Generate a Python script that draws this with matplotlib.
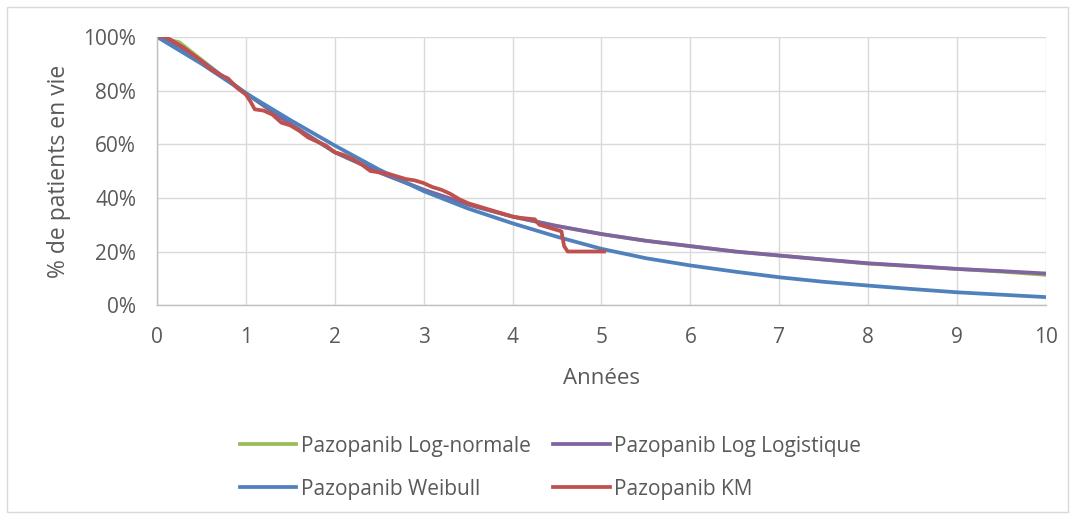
import numpy as np
import matplotlib
matplotlib.use('Agg')
import matplotlib.pyplot as plt
import matplotlib.patches as patches
import matplotlib.ticker as ticker

plt.rcParams['font.family'] = ['Open Sans', 'DejaVu Sans']

# fitted curves (years, survival %)
t_fit = [0, 0.25, 0.5, 0.75, 1, 1.5, 2, 2.5, 3, 3.5, 4, 4.5, 5, 5.5, 6, 6.5, 7, 7.5, 8, 8.5, 9, 9.5, 10]
lognorm = [100, 98, 91.5, 85, 79, 67.5, 57, 49.5, 43, 37.5, 33, 29.5, 26.5, 24, 22, 20, 18.5, 17, 15.5, 14.5, 13.5, 12.5, 11.3]
loglogis = [100, 96.5, 91, 85, 79, 67.5, 57, 49.5, 43, 37.5, 33, 29.5, 26.5, 24, 22, 20, 18.5, 17, 15.6, 14.6, 13.5, 12.7, 11.8]
weibull = [100, 95, 90, 84.5, 79, 69, 59.5, 50.5, 42.5, 36, 30.5, 25.5, 21, 17.5, 14.8, 12.5, 10.4, 8.7, 7.3, 6, 4.8, 3.9, 3.0]

# Kaplan-Meier estimate
t_km = [0, 0.1, 0.2, 0.3, 0.4, 0.5, 0.6, 0.7, 0.8, 0.9, 1.0, 1.05, 1.1, 1.2, 1.3, 1.4, 1.5, 1.6, 1.7, 1.8,
        1.9, 2.0, 2.1, 2.2, 2.3, 2.4, 2.5, 2.6, 2.7, 2.8, 2.9, 3.0, 3.1, 3.2, 3.3, 3.4, 3.5, 3.6, 3.7, 3.8,
        3.9, 4.0, 4.1, 4.25, 4.3, 4.4, 4.5, 4.55, 4.58, 4.62, 5.03]
km = [100, 100, 98, 96, 93.5, 91, 88, 86, 84.5, 81, 78.5, 76, 73, 72.5, 71, 68, 67, 65, 62.5, 61,
      59.5, 57, 56, 54.5, 52.5, 50, 49.5, 49, 48, 47, 46.5, 45.5, 44, 43, 41.5, 39.5, 38, 37, 36, 35,
      34, 33, 32.5, 32, 30, 29, 28, 27.5, 22, 20, 20]

grey = '#595959'

fig = plt.figure(figsize=(10.75, 5.19), dpi=100)
ax = fig.add_axes([0.146, 0.412, 0.827, 0.517])

l1, = ax.plot(t_fit, lognorm, color='#9BBB59', lw=2.7, label='Pazopanib Log-normale')
l2, = ax.plot(t_fit, loglogis, color='#8064A2', lw=2.7, label='Pazopanib Log Logistique')
l3, = ax.plot(t_fit, weibull, color='#4F81BD', lw=2.7, label='Pazopanib Weibull')
l4, = ax.plot(t_km, km, color='#C0504D', lw=2.7, label='Pazopanib KM')

ax.set_xlim(0, 10)
ax.set_ylim(0, 100)
ax.set_xticks(range(0, 11))
ax.set_yticks(range(0, 101, 20))
ax.yaxis.set_major_formatter(ticker.FuncFormatter(lambda v, p: '%d%%' % v))
ax.grid(True, color='#D9D9D9', lw=1.0)
ax.set_axisbelow(True)
for s in ['top', 'right']:
    ax.spines[s].set_visible(False)
for s in ['left', 'bottom']:
    ax.spines[s].set_color('#BFBFBF')
    ax.spines[s].set_linewidth(1.0)
ax.tick_params(length=0, labelsize=15, colors=grey)
ax.tick_params(axis='x', pad=16)
ax.tick_params(axis='y', pad=15)
ax.set_xlabel('Années', fontsize=16, color=grey, labelpad=14)
ax.set_ylabel('% de patients en vie', fontsize=16.5, color=grey, labelpad=9)

# row-wise legend order
leg = fig.legend([l1, l3, l2, l4], [l1.get_label(), l3.get_label(), l2.get_label(), l4.get_label()],
                 loc='center', bbox_to_anchor=(0.512, 0.099), ncol=2, frameon=False,
                 fontsize=15, handlelength=2.7, handletextpad=0.2, columnspacing=1.1,
                 labelspacing=1.05)
for txt in leg.get_texts():
    txt.set_color(grey)

fig.patches.append(patches.Rectangle((0.0065, 0.013), 0.987, 0.973, transform=fig.transFigure,
                                     fill=False, edgecolor='#D9D9D9', lw=1.0))

plt.savefig('out.png', dpi=100)
